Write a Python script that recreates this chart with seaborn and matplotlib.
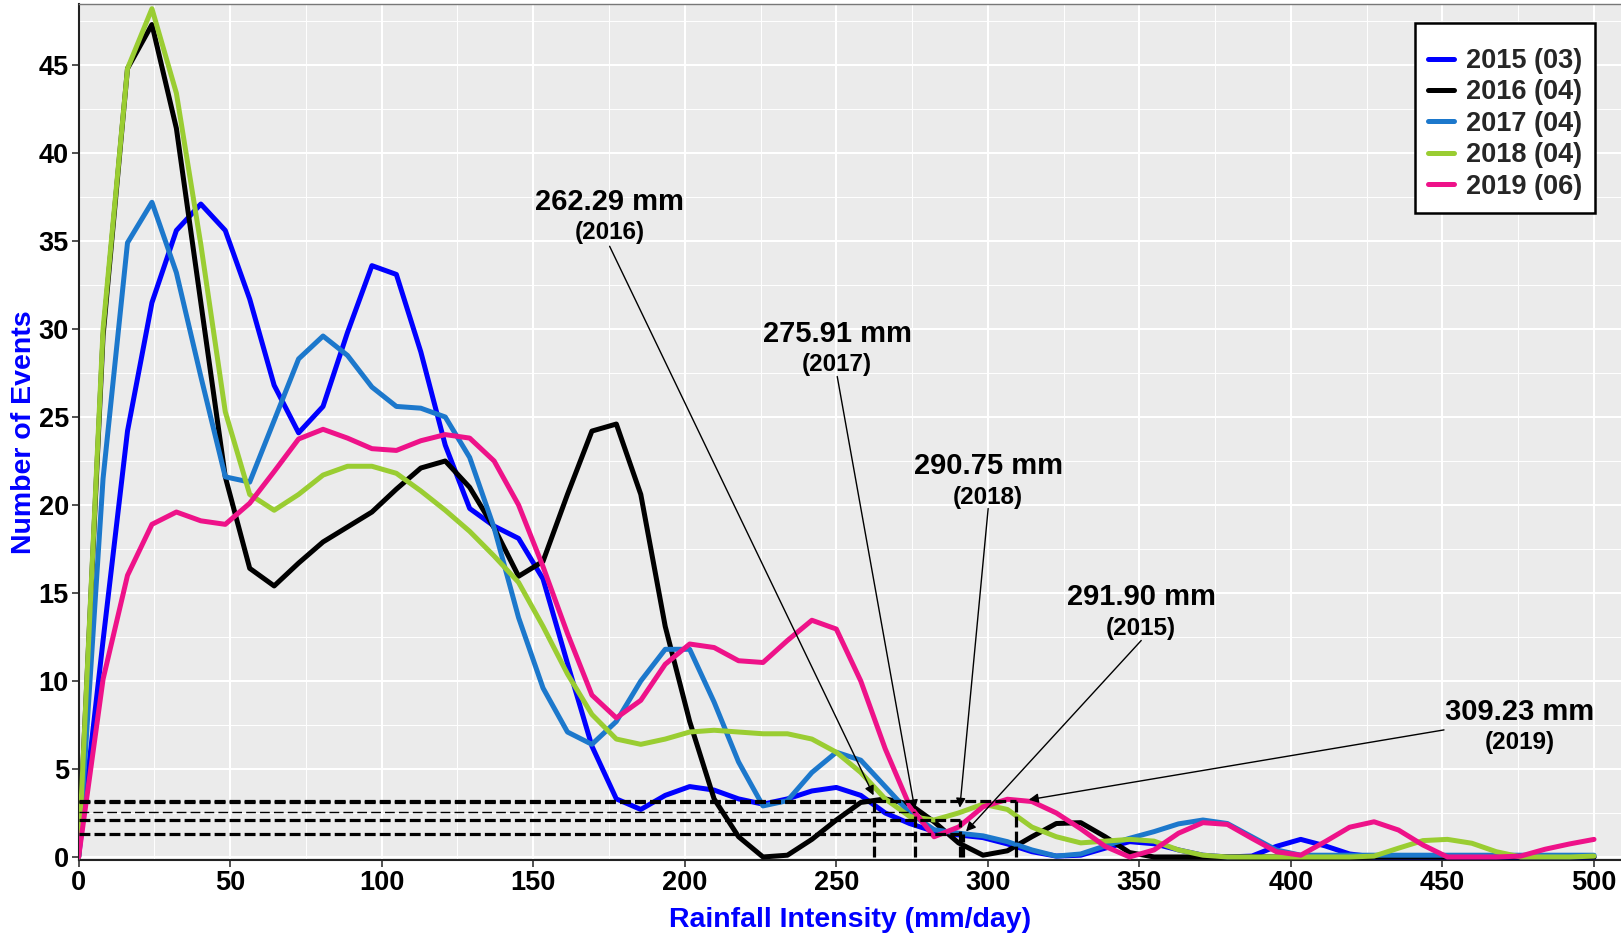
import numpy as np
import pandas as pd
import matplotlib
matplotlib.use("Agg")
import matplotlib.pyplot as plt
from matplotlib.ticker import MultipleLocator
import seaborn as sns

# ---------------- data ----------------
intensity = np.linspace(0, 500, 63)  # rainfall intensity bin centres (mm/day)

events_2015 = [0, 12.3, 24.2, 31.5, 35.6, 37.1, 35.6, 31.7, 26.8, 24.1, 25.6, 29.8, 33.6, 33.1, 28.7, 23.4,
               19.8, 18.8, 18.1, 15.8, 11.0, 6.3, 3.3, 2.7, 3.5, 4.0, 3.8, 3.3, 3.0, 3.3, 3.75, 3.95,
               3.5, 2.5, 1.9, 1.45, 1.25, 1.1, 0.74, 0.3, 0.05, 0.1, 0.5, 0.87, 0.75, 0.4, 0.1, 0,
               0.05, 0.6, 1.0, 0.63, 0.17, 0, 0, 0, 0, 0, 0, 0, 0, 0, 0]
events_2016 = [0, 29.6, 44.8, 47.3, 41.4, 31.5, 21.6, 16.4, 15.4, 16.7, 17.9, 18.75, 19.6, 20.9, 22.1, 22.5,
               21.0, 18.7, 15.95, 16.8, 20.6, 24.2, 24.6, 20.6, 13.1, 7.7, 3.3, 1.15, 0, 0.1, 1.0, 2.1,
               3.1, 3.3, 3.0, 2.0, 0.8, 0.1, 0.35, 1.15, 1.9, 1.95, 1.15, 0.25, 0, 0, 0, 0,
               0, 0, 0, 0, 0, 0, 0, 0, 0, 0, 0, 0, 0, 0, 0]
events_2017 = [0, 21.5, 34.9, 37.2, 33.2, 27.3, 21.6, 21.3, 24.8, 28.3, 29.6, 28.5, 26.7, 25.6, 25.5, 25.0,
               22.7, 18.7, 13.6, 9.6, 7.1, 6.4, 7.7, 10.0, 11.8, 11.8, 8.8, 5.4, 2.9, 3.2, 4.8, 5.95,
               5.5, 4.0, 2.5, 1.55, 1.35, 1.2, 0.87, 0.4, 0.05, 0.17, 0.63, 1.06, 1.44, 1.88, 2.1, 1.9,
               1.15, 0.4, 0.1, 0.1, 0.1, 0.1, 0.1, 0.1, 0.1, 0.1, 0.1, 0.1, 0.1, 0.1, 0.1]
events_2018 = [0, 30.0, 44.8, 48.2, 43.4, 34.8, 25.3, 20.6, 19.7, 20.6, 21.7, 22.2, 22.2, 21.8, 20.8, 19.7,
               18.5, 17.1, 15.6, 13.1, 10.4, 8.1, 6.7, 6.4, 6.7, 7.1, 7.2, 7.1, 7.0, 7.0, 6.7, 5.95,
               4.8, 3.3, 2.3, 2.1, 2.5, 3.0, 2.7, 1.7, 1.15, 0.8, 0.9, 1.0, 0.9, 0.4, 0.1, 0,
               0, 0, 0, 0, 0, 0.05, 0.5, 0.93, 1.0, 0.78, 0.3, 0, 0, 0, 0.05]
events_2019 = [0, 10.1, 16.0, 18.9, 19.6, 19.1, 18.9, 20.1, 21.9, 23.75, 24.3, 23.8, 23.2, 23.1, 23.65, 24.0,
               23.8, 22.5, 20.0, 16.5, 12.7, 9.2, 7.9, 8.9, 10.95, 12.1, 11.9, 11.15, 11.05, 12.3, 13.45, 12.95,
               10.0, 6.15, 2.9, 1.15, 1.7, 2.85, 3.28, 3.15, 2.5, 1.6, 0.6, 0, 0.4, 1.35, 1.95, 1.85,
               1.06, 0.3, 0.1, 0.87, 1.69, 2.0, 1.53, 0.68, 0, 0, 0, 0.05, 0.44, 0.74, 1.0]

series_labels = ["2015 (03)", "2016 (04)", "2017 (04)", "2018 (04)", "2019 (06)"]
series_values = [events_2015, events_2016, events_2017, events_2018, events_2019]
series_colors = ["#0000FF", "#000000", "#1C78CC", "#9ACD32", "#EE1289"]

# thresholds (x = intensity, y = events level) per year
thr_years = ["2016", "2017", "2018", "2015", "2019"]
thr_x = [262.29, 275.91, 290.75, 291.90, 309.23]
thr_y = [3.12, 2.54, 2.10, 1.31, 3.18]
thr_text = ["262.29 mm", "275.91 mm", "290.75 mm", "291.90 mm", "309.23 mm"]
label_xy = [(175.2, 37.2), (250.3, 29.7), (300.1, 22.2), (350.6, 14.75), (475.4, 8.23)]
sub_y = [35.5, 28.0, 20.45, 13.0, 6.52]
arrow_start = [(175.2, 34.7), (250.3, 27.3), (300.1, 19.8), (350.6, 12.3), (450.5, 7.22)]
arrow_end = [(262.29, 3.5), (275.91, 2.7), (290.75, 2.8), (292.8, 1.45), (313.5, 3.25)]

# ---------------- style ----------------
sns.set_theme(style="darkgrid", rc={"axes.facecolor": "#EBEBEB", "grid.color": "white"})
plt.rcParams["font.family"] = ["Liberation Sans", "DejaVu Sans"]
plt.rcParams["font.weight"] = "bold"

df = pd.concat([pd.DataFrame({"intensity": intensity, "events": vals, "series": lab})
                for lab, vals in zip(series_labels, series_values)], ignore_index=True)

fig = plt.figure(figsize=(16.21, 9.38), dpi=100)
ax = fig.add_axes([0.0485, 0.0832, 0.9515, 0.9126])

sns.lineplot(data=df, x="intensity", y="events", hue="series", hue_order=series_labels,
             palette=series_colors, estimator=None, linewidth=3.6, ax=ax, legend=True, zorder=3)

# threshold dashed guides
for yr, xt, yt in zip(thr_years, thr_x, thr_y):
    thin = (yr == "2017")
    ax.plot([0, xt], [yt, yt], color="black", lw=1.0 if thin else 2.3,
            dashes=(7, 3) if thin else (3.4, 1.3), zorder=4)
    ax.plot([xt, xt], [0, yt], color="black", lw=2.3, dashes=(3.4, 1.3), zorder=4)

# annotations
for txt, yr, (lx, ly), sy, st, en in zip(thr_text, thr_years, label_xy, sub_y, arrow_start, arrow_end):
    ax.text(lx, ly, txt, ha="center", va="center", fontsize=21, fontweight="bold", color="black", zorder=6)
    ax.text(lx, sy, f"({yr})", ha="center", va="center", fontsize=17.5, fontweight="bold", color="black", zorder=6)
    ax.annotate("", xy=en, xytext=st,
                arrowprops=dict(arrowstyle="-|>", color="black", lw=1.0, mutation_scale=14,
                                shrinkA=0, shrinkB=0), zorder=6)

# axes
ax.set_xlim(0, 508.9)
ax.set_ylim(-0.17, 48.47)
ax.xaxis.set_major_locator(MultipleLocator(50))
ax.xaxis.set_minor_locator(MultipleLocator(25))
ax.yaxis.set_major_locator(MultipleLocator(5))
ax.yaxis.set_minor_locator(MultipleLocator(2.5))
ax.grid(which="major", color="white", lw=1.5)
ax.grid(which="minor", color="white", lw=0.7)
ax.set_axisbelow(True)
ax.tick_params(axis="both", which="major", length=5, width=1.2, color="#333333",
               labelsize=19.5, labelcolor="black", pad=2, direction="out", bottom=True, left=True)
ax.tick_params(axis="both", which="minor", length=0)
for lab in ax.get_xticklabels() + ax.get_yticklabels():
    lab.set_fontweight("bold")

for side in ["left", "bottom"]:
    ax.spines[side].set_visible(True)
    ax.spines[side].set_color("#222222")
    ax.spines[side].set_linewidth(1.5)
ax.spines["top"].set_visible(True)
ax.spines["top"].set_color("#777777")
ax.spines["top"].set_linewidth(1.0)
ax.spines["right"].set_visible(False)

ax.set_xlabel("Rainfall Intensity (mm/day)", fontsize=20.5, fontweight="bold", color="#0000FF", labelpad=8)
ax.set_ylabel("Number of Events", fontsize=20.5, fontweight="bold", color="#0000FF", labelpad=1)

handles, labels = ax.get_legend_handles_labels()
for h in handles:
    h.set_linewidth(3.6)
leg = ax.legend(handles, labels, loc="upper right", bbox_to_anchor=(0.992, 0.994),
                prop={"size": 19.5, "weight": "bold"}, title=" ", title_fontsize=5,
                handlelength=0.95, handletextpad=0.45, labelspacing=0.2, borderpad=0.48,
                fancybox=False, framealpha=1.0, edgecolor="black", facecolor="white")
leg.get_frame().set_linewidth(1.8)
leg.set_zorder(10)

fig.savefig("out.png", dpi=100)
